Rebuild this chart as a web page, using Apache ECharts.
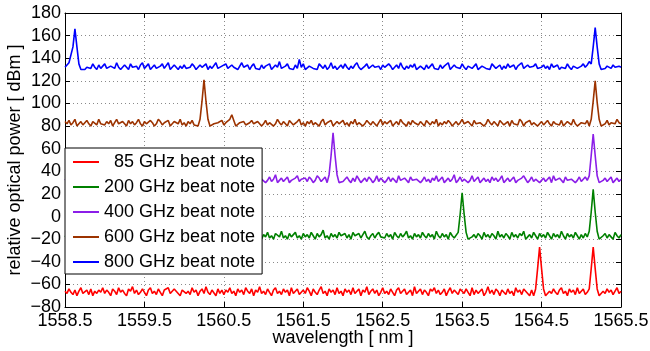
<!DOCTYPE html>
<html>
<head>
<meta charset="utf-8">
<script src="https://cdn.jsdelivr.net/npm/echarts@6/dist/echarts.min.js"></script>
<style>html,body{margin:0;padding:0;background:#fff}#c{width:650px;height:351px}</style>
</head>
<body>
<div id="c"></div>
<script>
// wavelength sampling grid (nm)
const wavelengthStart = 1558.5;
const wavelengthStep = 0.025;
const xTicks = { min: 1558.5, max: 1565.5, interval: 1 };
const yTicks = { min: -80, max: 180, interval: 20 };

const seriesNames = ['85 GHz beat note', '200 GHz beat note', '400 GHz beat note', '600 GHz beat note', '800 GHz beat note'];
const seriesColors = ['#ff0000', '#008000', '#8b1ee8', '#9c3300', '#0000ff'];

const beat85 = [
-66,-68,-64,-67,-69,-65,-70,-66,-63,-68,-67,-65,-69,-64,-70,-66,-68,-65,-67,-63,
-68,-65,-67,-70,-64,-66,-69,-63,-67,-65,-68,-70,-64,-66,-62,-68,-65,-69,-67,-64,
-67,-70,-65,-63,-68,-66,-69,-64,-67,-70,-65,-66,-63,-68,-69,-64,-66,-67,-70,-65,
-64,-68,-66,-69,-63,-67,-65,-70,-66,-64,-68,-62,-67,-69,-65,-66,-70,-64,-68,-65,
-69,-65,-67,-63,-68,-66,-70,-64,-67,-65,-69,-63,-66,-68,-64,-70,-65,-67,-62,-68,
-66,-69,-64,-67,-70,-65,-63,-68,-66,-69,-64,-67,-65,-70,-63,-68,-66,-64,-69,-67,
-65,-68,-63,-66,-70,-64,-67,-69,-65,-62,-68,-66,-70,-64,-67,-65,-69,-63,-68,-66,
-70,-64,-67,-65,-69,-63,-68,-66,-64,-70,-65,-67,-62,-69,-66,-64,-68,-65,-70,-67,
-63,-68,-66,-69,-64,-67,-70,-65,-63,-68,-66,-64,-69,-67,-65,-70,-62,-68,-66,-64,
-69,-65,-67,-70,-64,-66,-63,-68,-65,-69,-67,-64,-70,-66,-63,-68,-65,-67,-69,-64,
-66,-68,-64,-67,-70,-63,-69,-65,-68,-66,-64,-70,-67,-62,-68,-65,-69,-64,-66,-70,
-65,-67,-69,-64,-68,-66,-70,-63,-67,-65,-69,-64,-66,-68,-70,-65,-70,-64,-46,-27,
-46,-64,-70,-70,-66,-68,-64,-67,-69,-65,-63,-68,-66,-70,-64,-67,-65,-69,-63,-68,
-66,-64,-69,-67,-64,-46,-27,-46,-64,-70,-70,-66,-68,-64,-67,-65,-69,-66,-63,-68,
-66];

const beat200 = [
-18,-16,-19,-15,-17,-20,-14,-18,-16,-19,-13,-17,-20,-15,-18,-16,-19,-14,-17,-18,
-15,-19,-17,-20,-16,-14,-18,-19,-15,-17,-20,-13,-16,-18,-19,-15,-17,-20,-14,-18,
-16,-19,-14,-17,-20,-15,-18,-16,-19,-13,-17,-18,-20,-15,-16,-19,-14,-18,-17,-20,
-15,-17,-19,-14,-18,-16,-20,-15,-17,-19,-13,-16,-18,-20,-15,-17,-19,-14,-16,-18,
-19,-15,-17,-20,-14,-18,-16,-19,-15,-17,-13,-18,-20,-16,-19,-14,-17,-18,-15,-20,
-16,-18,-14,-19,-17,-20,-15,-16,-18,-13,-19,-17,-20,-15,-18,-16,-14,-19,-17,-20,
-15,-18,-16,-19,-14,-17,-20,-15,-18,-16,-12,-19,-17,-20,-15,-18,-16,-19,-14,-17,
-18,-15,-19,-16,-20,-14,-17,-18,-15,-19,-16,-13,-18,-20,-17,-15,-19,-16,-14,-18,
-17,-19,-15,-18,-16,-20,-14,-17,-19,-15,-18,-16,-13,-19,-17,-20,-15,-18,-16,-19,
-14,-17,-19,-15,-18,-16,-20,-13,-17,-19,-15,-18,-16,-20,-14,-17,-19,-20,-14,2,
21,2,-14,-20,-20,-18,-16,-19,-15,-17,-20,-14,-18,-16,-19,-15,-17,-20,-13,-18,
-16,-19,-15,-17,-20,-14,-18,-16,-19,-15,-17,-13,-20,-18,-16,-19,-14,-17,-20,-15,
-18,-16,-19,-14,-17,-20,-15,-18,-16,-19,-13,-17,-20,-15,-18,-16,-19,-14,-17,-20,
-16,-19,-15,-18,-13,4,24,4,-13,-20,-20,-17,-15,-19,-16,-18,-20,-14,-17,-19,
-16];

const beat400 = [
32,34,31,33,35,30,32,36,31,33,34,30,32,35,31,33,32,34,30,33,
35,31,32,34,30,33,36,31,32,34,33,30,35,32,31,34,33,30,32,36,
31,33,34,30,32,35,31,33,30,34,32,31,36,33,30,32,34,31,33,35,
30,32,34,31,33,35,30,32,31,34,33,36,30,32,31,35,33,30,34,32,
31,35,33,30,32,34,31,36,33,30,32,35,31,33,34,30,32,31,35,33,
34,30,32,35,31,33,37,30,32,34,31,33,35,30,32,31,34,36,31,33,
32,34,31,35,33,30,32,36,34,31,33,35,30,37,54,74,54,37,30,30,
31,33,35,32,30,34,31,36,33,30,32,34,31,35,33,30,32,36,31,34,
33,30,32,35,31,34,33,30,36,32,31,34,33,30,35,32,31,33,34,30,
32,35,31,33,30,34,32,36,31,33,35,30,32,34,31,33,37,30,32,35,
31,33,34,30,32,36,31,33,35,30,32,34,31,33,30,35,32,34,31,33,
36,30,32,34,31,33,35,30,32,31,34,36,33,30,32,35,31,33,34,30,
32,34,31,33,35,30,36,32,31,34,33,30,35,32,31,33,34,30,32,35,
31,33,35,32,36,54,73,54,36,30,30,32,34,31,33,35,30,32,34,31,
33];

const beat600 = [
84,82,85,81,83,86,80,82,84,81,83,85,82,80,84,83,81,86,82,83,
81,84,82,85,80,83,86,82,81,84,83,80,85,82,84,81,83,86,82,80,
84,82,81,85,83,80,82,86,84,81,83,82,85,80,81,84,83,82,86,81,
83,80,84,82,85,81,82,80,86,102,121,102,86,80,80,82,81,83,82,85,
81,83,84,86,90,85,80,81,83,82,84,81,80,83,85,82,81,84,83,80,
82,85,81,83,84,80,82,86,83,81,84,82,80,85,83,81,82,84,86,81,
83,80,84,82,85,81,83,82,80,84,86,81,83,82,85,80,81,84,82,83,
85,81,83,80,84,82,86,81,83,84,80,82,85,83,81,84,82,80,83,86,
81,84,82,83,85,80,82,84,81,86,83,82,80,84,81,85,83,82,81,84,
82,80,85,83,81,84,82,86,80,83,81,84,82,85,83,80,82,84,81,83,
86,82,81,84,83,80,85,82,81,83,84,80,82,86,83,81,84,82,80,85,
83,81,82,84,80,85,82,83,81,86,84,80,83,82,85,81,83,84,80,82,
84,81,83,85,82,80,84,82,83,81,85,80,82,84,83,81,86,82,80,81,
83,84,82,85,80,86,102,120,101,86,80,80,82,85,81,83,84,82,86,83,
82];

const beat800 = [
132,134,136,135,150,166,150,135,130,130,130,132,133,131,135,132,130,134,131,133,
135,131,130,133,134,131,136,132,130,131,134,133,130,135,132,131,133,130,134,136,
131,133,135,130,132,134,131,130,133,135,131,132,136,130,131,134,132,130,133,131,
134,131,130,132,135,133,130,131,134,132,131,135,130,133,131,132,136,131,130,133,
132,135,131,130,134,132,133,130,131,136,132,131,134,130,133,135,131,132,130,134,
131,133,132,135,130,131,134,132,137,131,130,133,135,131,132,130,134,131,139,132,
135,130,131,133,134,131,132,130,135,133,131,134,130,132,136,131,133,130,132,134,
131,135,132,130,133,131,134,136,132,130,131,133,135,131,130,134,132,131,133,130,
134,132,131,135,133,130,132,134,131,136,132,130,133,131,134,132,135,130,131,133,
132,130,134,131,133,135,131,132,130,134,131,133,132,136,130,131,134,132,133,131,
135,132,130,133,134,131,132,135,130,131,133,134,131,132,130,135,133,131,132,134,
130,133,131,135,132,131,134,130,133,132,136,131,130,134,132,131,133,135,131,130,
132,134,131,133,130,135,132,131,134,130,132,133,131,135,132,130,133,134,131,132,
133,135,132,134,137,135,150,167,150,135,130,130,131,133,132,131,134,132,131,133,
132];

const seriesValues = [beat85, beat200, beat400, beat600, beat800];

function withWavelength(values) {
  return values.map((v, i) => [+(wavelengthStart + i * wavelengthStep).toFixed(3), v]);
}

const FONT = 'Liberation Sans, Arial, Helvetica, sans-serif';
const chart = echarts.init(document.getElementById('c'), null, { renderer: 'canvas' });

const tickStyle = { inside: true, length: 5, lineStyle: { color: '#000', width: 1 } };
const axisLineStyle = { show: true, onZero: false, lineStyle: { color: '#000', width: 1 } };
const gridLineStyle = { show: true, lineStyle: { color: '#8a8a8a', width: 1, type: [1, 3] } };

const option = {
  animation: false,
  textStyle: { fontFamily: FONT },
  grid: { left: 65, right: 29, top: 13, bottom: 44, outerBoundsMode: 'none', containLabel: false },
  xAxis: [
    {
      type: 'value', position: 'bottom',
      min: xTicks.min, max: xTicks.max, interval: xTicks.interval,
      axisLine: axisLineStyle, axisTick: tickStyle, splitLine: gridLineStyle,
      axisLabel: { fontSize: 18, color: '#000', margin: 5, fontFamily: FONT, formatter: v => v.toFixed(1), showMinLabel: true, showMaxLabel: true, hideOverlap: false },
      name: 'wavelength [ nm ]', nameLocation: 'middle', nameGap: 22, nameMoveOverlap: false,
      nameTextStyle: { fontSize: 18, color: '#000', fontFamily: FONT }
    },
    {
      type: 'value', position: 'top',
      min: xTicks.min, max: xTicks.max, interval: xTicks.interval,
      axisLine: axisLineStyle, axisTick: tickStyle, splitLine: { show: false },
      axisLabel: { show: false }
    }
  ],
  yAxis: [
    {
      type: 'value', position: 'left',
      min: yTicks.min, max: yTicks.max, interval: yTicks.interval,
      axisLine: axisLineStyle, axisTick: tickStyle, splitLine: gridLineStyle,
      axisLabel: { fontSize: 18, color: '#000', margin: 4, fontFamily: FONT, formatter: v => String(v).replace('-', '\u2212'), hideOverlap: false },
      name: 'relative optical power [ dBm ]', nameLocation: 'middle', nameGap: 41, nameMoveOverlap: false,
      nameTextStyle: { fontSize: 18, color: '#000', fontFamily: FONT }
    },
    {
      type: 'value', position: 'right',
      min: yTicks.min, max: yTicks.max, interval: yTicks.interval,
      axisLine: axisLineStyle, axisTick: tickStyle, splitLine: { show: false },
      axisLabel: { show: false }
    }
  ],
  legend: {
    orient: 'vertical', left: 65, top: 148,
    padding: [5, 7, 3, 7],
    itemWidth: 26, itemHeight: 2, itemGap: 7,
    backgroundColor: '#fff', borderColor: '#000', borderWidth: 1, borderRadius: 0,
    data: seriesNames,
    formatter: n => n.startsWith('85') ? '  ' + n : n,
    textStyle: { fontSize: 18, color: '#000', fontFamily: FONT, lineHeight: 18 }
  },
  series: seriesNames.map((name, k) => ({
    name,
    type: 'line',
    xAxisIndex: 0, yAxisIndex: 0,
    symbol: 'none',
    color: seriesColors[k],
    lineStyle: { width: 1.6, color: seriesColors[k] },
    data: withWavelength(seriesValues[k]),
    z: 2
  }))
};
chart.setOption(option);
</script>
</body>
</html>
